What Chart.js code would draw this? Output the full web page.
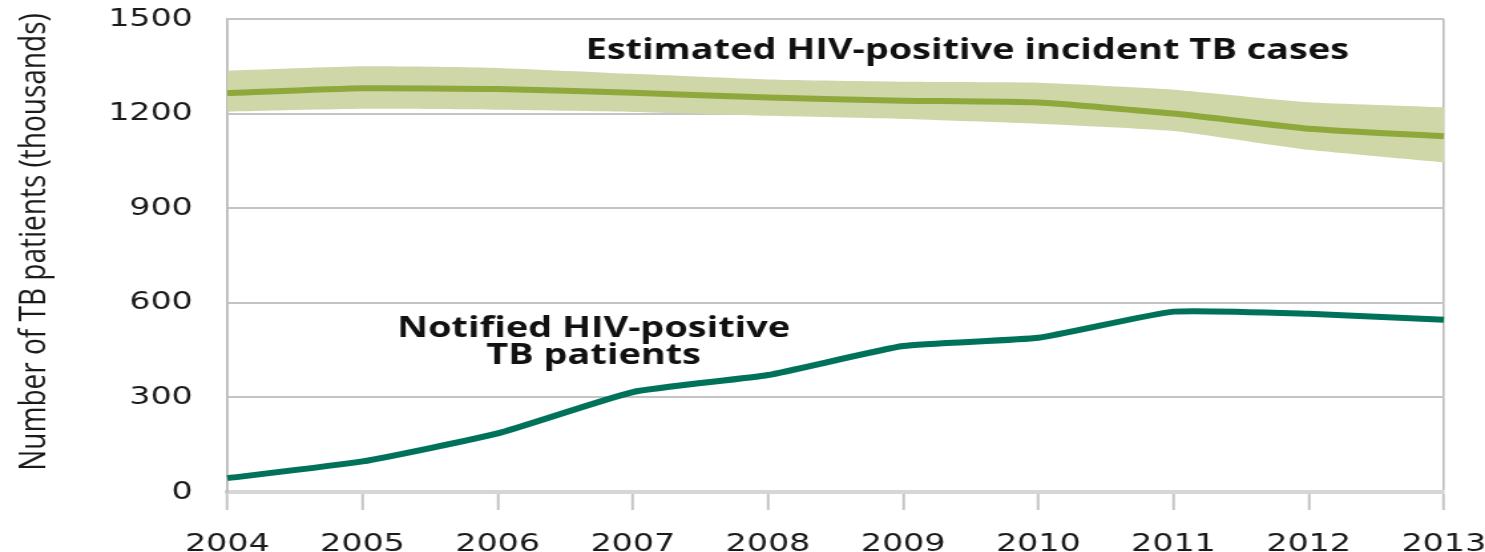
<!DOCTYPE html>
<html>
<head>
<meta charset="utf-8">
<script src="https://cdn.jsdelivr.net/npm/chart.js@4"></script>
<style>
  html, body { margin: 0; padding: 0; background: #fff; overflow: hidden; }
  #c { display: block; transform: scaleX(1.3295); transform-origin: 0 0; }
</style>
</head>
<body>
<canvas id="c" width="1117" height="552"></canvas>
<script>
var years = ['2004', '2005', '2006', '2007', '2008', '2009', '2010', '2011', '2012', '2013'];
var estimated = [1265, 1280, 1278, 1266, 1251, 1241, 1235, 1200, 1152, 1128];
var estHigh = [1336, 1350, 1345, 1326, 1308, 1301, 1298, 1276, 1236, 1220];
var estLow = [1206, 1215, 1212, 1205, 1193, 1183, 1168, 1145, 1085, 1045];
var notified = [44, 97, 186, 317, 371, 463, 489, 572, 565, 546];
var yTicks = [0, 300, 600, 900, 1200, 1500];
var yTitle = 'Number of TB patients (thousands)';

var notes = [
    { lines: ['Estimated HIV-positive incident TB cases'], x: 2.65, y: 1373, align: 'left' },
    { lines: ['Notified HIV-positive', 'TB patients'], x: 2.71, y: 492, align: 'center' }
];

var notePlugin = {
    id: 'notes',
    afterDatasetsDraw: function (chart) {
        var ctx = chart.ctx;
        var xs = chart.scales.x;
        var ys = chart.scales.y;
        ctx.save();
        ctx.fillStyle = '#111';
        ctx.font = 'bold 28.5px "Open Sans", "DejaVu Sans", sans-serif';
        ctx.textBaseline = 'alphabetic';
        for (var i = 0; i < notes.length; i++) {
            var n = notes[i];
            ctx.textAlign = n.align;
            var px = xs.getPixelForValue(n.x);
            var py = ys.getPixelForValue(n.y);
            for (var j = 0; j < n.lines.length; j++) {
                ctx.fillText(n.lines[j], px, py + j * 27);
            }
        }
        ctx.restore();

        // y axis title, drawn by hand so it sits where the original has it
        ctx.save();
        ctx.translate(26, 242);
        ctx.rotate(-Math.PI / 2);
        ctx.fillStyle = '#1a1a1a';
        ctx.font = '28px "Liberation Sans Narrow", "Open Sans", sans-serif';
        ctx.textAlign = 'center';
        ctx.textBaseline = 'middle';
        ctx.fillText(yTitle, 0, 0);
        ctx.restore();
    }
};

var ctx = document.getElementById('c').getContext('2d');
var myChart = new Chart(ctx, {
    type: 'line',
    data: {
        labels: years,
        datasets: [{
            label: 'Notified HIV-positive TB patients',
            data: notified,
            borderColor: '#00725a',
            borderWidth: 6,
            pointRadius: 0,
            tension: 0.15,
            fill: false
        }, {
            label: 'Estimated HIV-positive incident TB cases',
            data: estimated,
            borderColor: '#8fa83c',
            borderWidth: 6,
            pointRadius: 0,
            tension: 0.15,
            fill: false
        }, {
            label: 'upper',
            data: estHigh,
            borderWidth: 0,
            borderColor: 'rgba(0,0,0,0)',
            backgroundColor: '#cfd7a9',
            pointRadius: 0,
            tension: 0.15,
            fill: '+1'
        }, {
            label: 'lower',
            data: estLow,
            borderWidth: 0,
            borderColor: 'rgba(0,0,0,0)',
            pointRadius: 0,
            tension: 0.15,
            fill: false
        }]
    },
    options: {
        responsive: false,
        maintainAspectRatio: false,
        animation: false,
        devicePixelRatio: 1,
        layout: { padding: { top: 0, left: 0, right: 0, bottom: 0 } },
        plugins: {
            legend: { display: false },
            tooltip: { enabled: false }
        },
        scales: {
            x: {
                type: 'category',
                offset: false,
                grid: {
                    drawOnChartArea: true,
                    color: function (c) {
                        return (c.index === 0 || c.index === years.length - 1) ? '#b8b8b8' : 'rgba(0,0,0,0)';
                    },
                    lineWidth: 1.5,
                    tickColor: '#c4c4c4',
                    tickLength: 18,
                    tickWidth: 2
                },
                border: { display: true, color: '#d6d6d6', width: 4 },
                ticks: {
                    color: '#1a1a1a',
                    font: { family: '"DejaVu Sans", Verdana, sans-serif', size: 25 },
                    padding: 19,
                    maxRotation: 0,
                    autoSkip: false
                },
                afterFit: function (s) {
                    s.height = 60;
                    s.paddingRight = 31;
                }
            },
            y: {
                min: 0,
                max: 1500,
                afterBuildTicks: function (s) {
                    s.ticks = yTicks.map(function (v) { return { value: v }; });
                },
                grid: {
                    color: function (c) {
                        return c.tick.value === 0 ? 'rgba(0,0,0,0)' : '#c4c4c4';
                    },
                    lineWidth: 2,
                    drawTicks: false
                },
                border: { display: true, color: '#b8b8b8', width: 1.5 },
                ticks: {
                    color: '#1a1a1a',
                    font: { family: '"DejaVu Sans", Verdana, sans-serif', size: 25 },
                    padding: 26,
                    callback: function (v) { return String(v); }
                },
                afterFit: function (s) {
                    s.width = 171;
                    s.paddingTop = 19;
                }
            }
        }
    },
    plugins: [notePlugin]
});
</script>
</body>
</html>
